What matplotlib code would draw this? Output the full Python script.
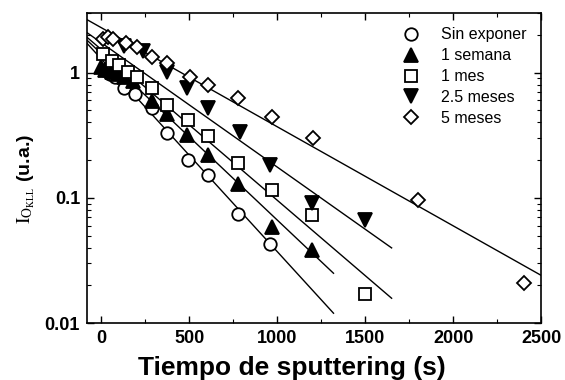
import numpy as np
import matplotlib
matplotlib.use('Agg')
import matplotlib.pyplot as plt
from matplotlib.ticker import FixedLocator, NullFormatter, LogLocator

plt.rcParams['font.family'] = ['Liberation Sans', 'DejaVu Sans']
plt.rcParams['mathtext.fontset'] = 'stix'

# Datos (tiempo de sputtering en s, intensidad en u.a.)
t_sin = [15, 50, 80, 130, 190, 290, 375, 495, 610, 780, 960]
i_sin = [1.05, 0.98, 0.92, 0.76, 0.67, 0.52, 0.33, 0.20, 0.153, 0.074, 0.043]

t_sem = [0, 25, 60, 95, 130, 180, 290, 375, 490, 610, 780, 970, 1200]
i_sem = [1.10, 1.05, 1.02, 0.97, 0.92, 0.85, 0.59, 0.47, 0.32, 0.22, 0.13, 0.058, 0.038]

t_mes = [10, 60, 100, 150, 205, 290, 375, 495, 610, 780, 970, 1200, 1500]
i_mes = [1.42, 1.25, 1.15, 1.02, 0.92, 0.75, 0.55, 0.42, 0.31, 0.19, 0.116, 0.073, 0.017]

t_25 = [130, 240, 375, 490, 610, 790, 960, 1200, 1500]
i_25 = [1.62, 1.50, 1.02, 0.76, 0.525, 0.337, 0.184, 0.091, 0.066]

t_5 = [10, 40, 70, 140, 205, 290, 375, 505, 610, 780, 970, 1205, 1800, 2400]
i_5 = [1.84, 1.91, 1.87, 1.74, 1.61, 1.34, 1.20, 0.93, 0.80, 0.63, 0.445, 0.30, 0.096, 0.021]

etiquetas = ['Sin exponer', '1 semana', '1 mes', '2.5 meses', '5 meses']

# Ajustes lineales en log10: log10(I) = a + b*t, trazados hasta t_fin
ajuste_a = [0.111, 0.153, 0.186, 0.24, 0.36]
ajuste_b = [-0.00154, -0.00133, -0.001205, -0.000994, -0.000792]
ajuste_fin = [1320, 1320, 1650, 1650, 2500]

series = [(t_sin, i_sin), (t_sem, i_sem), (t_mes, i_mes), (t_25, i_25), (t_5, i_5)]
marcadores = ['o', '^', 's', 'v', 'D']
rellenos = ['white', 'black', 'white', 'black', 'white']
tamanos = [9, 9.5, 8.5, 9.5, 7.5]

fig = plt.figure(figsize=(5.65, 3.8), dpi=100)
ax = fig.add_axes([0.154, 0.15, 0.804, 0.816])

x0 = -80
for (t, v), m, f, ms, a, b, fin, lab in zip(series, marcadores, rellenos, tamanos,
                                            ajuste_a, ajuste_b, ajuste_fin, etiquetas):
    tt = np.array([x0, fin])
    ax.plot(tt, 10 ** (a + b * tt), color='black', lw=1.0, zorder=1)
    ax.plot(t, v, linestyle='none', marker=m, ms=ms, mfc=f, mec='black', mew=1.3,
            label=lab, zorder=3)

ax.set_yscale('log')
ax.set_xlim(x0, 2500)
ax.set_ylim(0.01, 3)

ax.xaxis.set_major_locator(FixedLocator([0, 500, 1000, 1500, 2000, 2500]))
ax.xaxis.set_minor_locator(FixedLocator([250, 750, 1250, 1750, 2250]))
ax.yaxis.set_major_locator(FixedLocator([0.01, 0.1, 1]))
ax.yaxis.set_minor_locator(LogLocator(base=10, subs=np.arange(2, 10)))
ax.yaxis.set_minor_formatter(NullFormatter())
ax.set_yticklabels(['0.01', '0.1', '1'])

ax.tick_params(which='both', direction='in', top=True, right=True)
ax.tick_params(which='major', length=5, width=1.0, labelsize=13, pad=5)
ax.tick_params(which='minor', length=3, width=0.8)
for lbl in ax.get_xticklabels() + ax.get_yticklabels():
    lbl.set_fontweight('bold')
for s in ax.spines.values():
    s.set_linewidth(1.2)

ax.set_xlabel('Tiempo de sputtering (s)', fontsize=19, fontweight='bold')
ax.xaxis.set_label_coords(0.45, -0.105)
ax.set_ylabel(r'$\mathrm{I_{O_{KLL}}}$ (u.a.)', fontsize=14, fontweight='bold')
ax.yaxis.set_label_coords(-0.11, 0.465)

ax.legend(loc='upper right', frameon=False, fontsize=11.5, handletextpad=1.3,
          labelspacing=0.37, borderaxespad=0.5, handlelength=1.2)

fig.savefig('out.png', dpi=100)
